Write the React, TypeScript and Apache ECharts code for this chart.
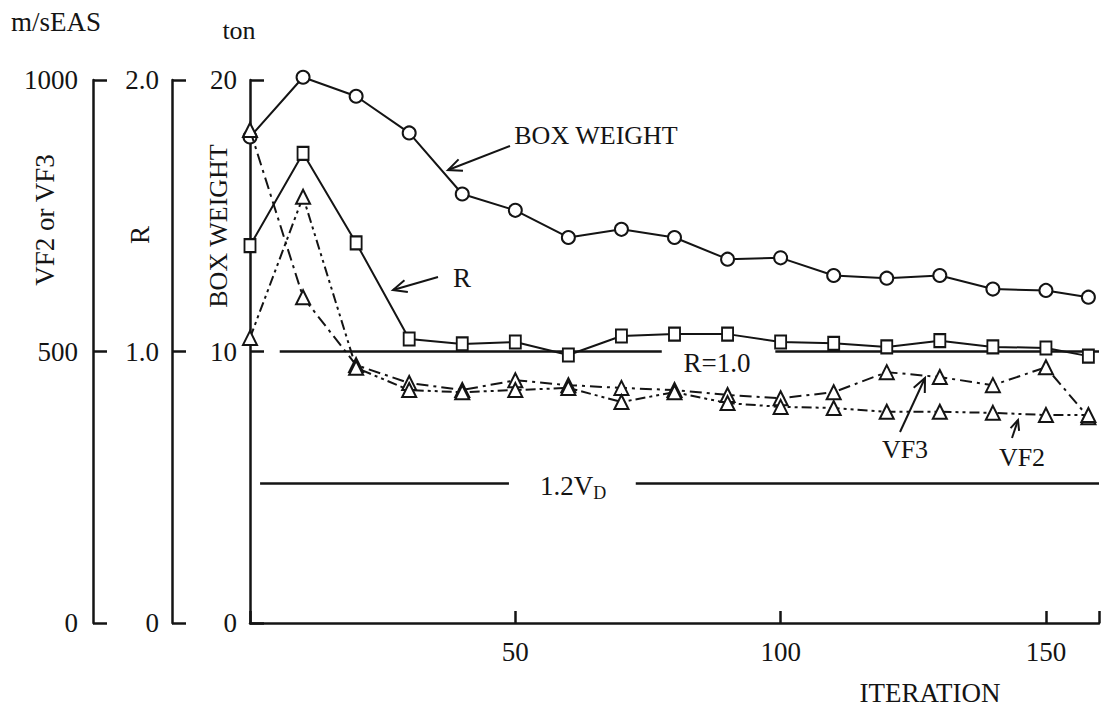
import React, { useEffect, useRef } from "react";
import * as echarts from "echarts";

const iterations = [0, 10, 20, 30, 40, 50, 60, 70, 80, 90, 100, 110, 120, 130, 140, 150, 158];
const boxWeight = [17.9, 20.1, 19.4, 18.05, 15.8, 15.2, 14.2, 14.5, 14.2, 13.4, 13.45, 12.8, 12.7, 12.8, 12.3, 12.25, 12.0];
const rValues = [1.39, 1.73, 1.4, 1.046, 1.028, 1.035, 0.987, 1.057, 1.064, 1.064, 1.035, 1.03, 1.017, 1.04, 1.017, 1.013, 0.983];
const vf3 = [908, 600, 475, 442, 429, 447, 438, 433, 429, 420, 414, 425, 462, 453, 438, 471, 379];
const vf2 = [525, 785, 470, 429, 425, 429, 433, 407, 425, 405, 398, 396, 389, 389, 387, 383, 383];

const xTicks = [50, 100, 150];
const rRef = 1.0;
const rRefSegments = [[5.6, 77.6], [99, 160]];
const vdRef = 258;
const vdRefSegments = [[1.9, 48.8], [72.7, 160]];

const FONT = "'Liberation Serif', 'DejaVu Serif', serif";
const INK = "#141414";
const FS = 27;

function pairs(xs: number[], ys: number[]) {
  return xs.map((x, i) => [x, ys[i]]);
}

function arrow(x1: number, y1: number, x2: number, y2: number, len = 15, ang = 0.42) {
  const a = Math.atan2(y1 - y2, x1 - x2);
  return [
    { type: "line", shape: { x1, y1, x2, y2 }, style: { stroke: INK, lineWidth: 2 } },
    {
      type: "polyline",
      shape: {
        points: [
          [x2 + len * Math.cos(a + ang), y2 + len * Math.sin(a + ang)],
          [x2, y2],
          [x2 + len * Math.cos(a - ang), y2 + len * Math.sin(a - ang)],
        ],
      },
      style: { stroke: INK, lineWidth: 2, fill: "none" },
    },
  ];
}

function txt(text: string, x: number, y: number, size = FS, rotation = 0, align = "center") {
  return {
    type: "text",
    x,
    y,
    rotation,
    style: {
      text,
      fill: INK,
      font: `${size}px ${FONT}`,
      align,
      verticalAlign: "middle",
    },
  };
}

export default function App() {
  const ref = useRef<HTMLDivElement>(null);
  useEffect(() => {
    if (!ref.current) return;
    const chart = echarts.init(ref.current, undefined, { renderer: "svg" });
    const axisCommon = (offset: number, min: number, max: number, interval: number, margin: number, fmt: (v: number) => string) => ({
      type: "value",
      position: "left",
      offset,
      min,
      max,
      interval,
      axisLine: { show: true, lineStyle: { color: INK, width: 2.5 } },
      axisTick: { show: true, inside: true, length: 14, lineStyle: { color: INK, width: 2.5 } },
      axisLabel: { margin, color: INK, fontSize: FS, fontFamily: FONT, formatter: fmt },
      splitLine: { show: false },
    });
    const option: any = {
      animation: false,
      backgroundColor: "#ffffff",
      grid: { left: 250, right: 0, top: 80, bottom: 87, containLabel: false },
      xAxis: {
        type: "value",
        min: 0,
        max: 160,
        interval: 50,
        axisLine: { show: true, onZero: false, lineStyle: { color: INK, width: 2.5 } },
        axisTick: { show: true, inside: true, length: 12, lineStyle: { color: INK, width: 2.5 } },
        axisLabel: {
          margin: 15,
          color: INK,
          fontSize: FS,
          fontFamily: FONT,
          formatter: (v: number) => (xTicks.indexOf(v) >= 0 ? String(v) : ""),
        },
        splitLine: { show: false },
      },
      yAxis: [
        axisCommon(0, 0, 20, 10, 13, (v: number) => String(v)),
        axisCommon(78, 0, 2, 1, 13, (v: number) => (v === 0 ? "0" : v.toFixed(1))),
        axisCommon(157, 0, 1000, 500, 15, (v: number) => String(v)),
      ],
      series: [
        {
          name: "BOX WEIGHT",
          type: "line",
          yAxisIndex: 0,
          clip: false,
          data: pairs(iterations, boxWeight),
          symbol: "circle",
          symbolSize: 13,
          lineStyle: { color: INK, width: 2 },
          itemStyle: { color: "#fff", borderColor: INK, borderWidth: 2 },
          z: 5,
        },
        {
          name: "R",
          type: "line",
          yAxisIndex: 1,
          clip: false,
          data: pairs(iterations, rValues),
          symbol: "rect",
          symbolSize: [11, 13],
          lineStyle: { color: INK, width: 2 },
          itemStyle: { color: "#fff", borderColor: INK, borderWidth: 2 },
          z: 5,
          markLine: {
            silent: true,
            symbol: ["none", "none"],
            label: { show: false },
            lineStyle: { color: INK, width: 2.5, type: "solid" },
            data: rRefSegments.map((s) => [{ coord: [s[0], rRef] }, { coord: [s[1], rRef] }]),
          },
        },
        {
          name: "VF3",
          type: "line",
          yAxisIndex: 2,
          clip: false,
          data: pairs(iterations, vf3),
          symbol: "triangle",
          symbolSize: 14,
          lineStyle: { color: INK, width: 2, type: [12, 5, 3, 5] },
          itemStyle: { color: "#fff", borderColor: INK, borderWidth: 2 },
          z: 6,
          markLine: {
            silent: true,
            symbol: ["none", "none"],
            label: { show: false },
            lineStyle: { color: INK, width: 2.5, type: "solid" },
            data: vdRefSegments.map((s) => [{ coord: [s[0], vdRef] }, { coord: [s[1], vdRef] }]),
          },
        },
        {
          name: "VF2",
          type: "line",
          yAxisIndex: 2,
          clip: false,
          data: pairs(iterations, vf2),
          symbol: "triangle",
          symbolSize: 14,
          lineStyle: { color: INK, width: 2, type: [10, 4, 3, 4, 3, 4] },
          itemStyle: { color: "#fff", borderColor: INK, borderWidth: 2 },
          z: 6,
        },
      ],
      graphic: [
        txt("m/sEAS", 11, 22, FS, 0, "left"),
        txt("ton", 239, 30, 26),
        txt("VF2 or VF3", 45, 220, FS, Math.PI / 2),
        txt("R", 140, 235, FS, Math.PI / 2),
        txt("BOX WEIGHT", 218, 226, 26, Math.PI / 2),
        txt("BOX WEIGHT", 596, 135, 26),
        txt("R", 462, 278, FS),
        txt("R=1.0", 717, 363, FS),
        txt("VF3", 905, 449, 26),
        txt("VF2", 1022, 457, 26),
        txt("ITERATION", 930, 693, FS),
        {
          type: "text",
          x: 540,
          y: 486,
          style: {
            text: "{a|1.2V}{b|D}",
            fill: INK,
            font: `${FS}px ${FONT}`,
            verticalAlign: "middle",
            rich: {
              a: { fontSize: FS, fontFamily: FONT, fill: INK },
              b: { fontSize: 18, fontFamily: FONT, fill: INK, padding: [14, 0, 0, 0] },
            },
          },
        },
        ...arrow(510, 146, 448, 170),
        ...arrow(438, 277, 393, 290),
        ...arrow(900, 432, 925, 378),
        ...arrow(1012, 438, 1018, 420, 11),
      ],
    };
    chart.setOption(option);
    return () => chart.dispose();
  }, []);
  return <div ref={ref} style={{ position: "fixed", left: 0, top: 0, width: 1102, height: 710, background: "#fff" }} />;
}
